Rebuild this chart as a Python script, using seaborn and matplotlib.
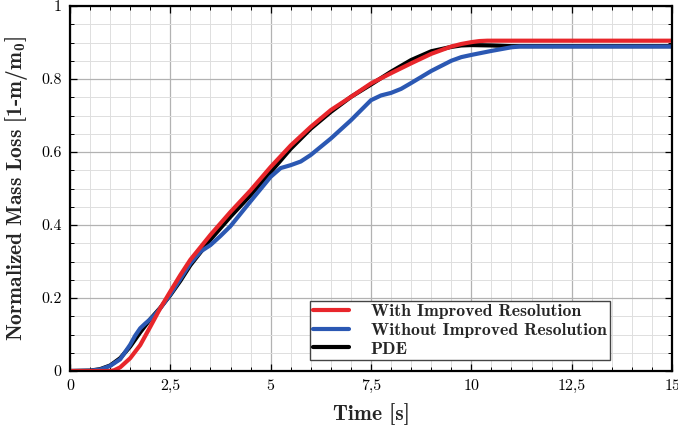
import matplotlib
matplotlib.use("Agg")
import matplotlib.pyplot as plt
import seaborn as sns
import pandas as pd
from matplotlib.ticker import MultipleLocator

# --- data -------------------------------------------------------------
series_names = ["With Improved Resolution", "Without Improved Resolution", "PDE"]
series_colors = ["#e8262b", "#2b58b3", "#000000"]

t_improved = [0, 0.5, 1.0, 1.1, 1.25, 1.5, 1.75, 2.0, 2.25, 2.5, 2.75, 3.0, 3.5,
              4.0, 4.5, 5.0, 5.5, 6.0, 6.5, 7.0, 7.5, 8.0, 8.5, 9.0, 9.5, 9.75,
              10.0, 10.2, 10.4, 15]
m_improved = [0, 0, 0.0, 0.002, 0.01, 0.035, 0.071, 0.121, 0.172, 0.218, 0.263,
              0.305, 0.373, 0.436, 0.495, 0.559, 0.618, 0.669, 0.715, 0.751,
              0.788, 0.816, 0.843, 0.869, 0.889, 0.896, 0.901, 0.904, 0.905, 0.905]

t_without = [0, 0.5, 0.75, 1.0, 1.25, 1.5, 1.625, 1.75, 1.875, 2.0, 2.125, 2.25,
             2.5, 2.75, 3.0, 3.25, 3.5, 3.75, 4.0, 4.5, 5.0, 5.25, 5.5, 5.75, 6.0,
             6.5, 7.0, 7.5, 7.75, 8.0, 8.25, 8.5, 9.0, 9.5, 9.75, 10.0, 10.5, 11.0,
             11.2, 15]
m_without = [0, 0.001, 0.004, 0.014, 0.032, 0.072, 0.097, 0.117, 0.13, 0.142,
             0.155, 0.172, 0.21, 0.252, 0.295, 0.327, 0.345, 0.37, 0.397, 0.465,
             0.532, 0.556, 0.564, 0.574, 0.592, 0.637, 0.687, 0.742, 0.755, 0.762,
             0.773, 0.789, 0.822, 0.85, 0.86, 0.866, 0.877, 0.887, 0.889, 0.889]

t_pde = [0, 0.5, 0.75, 1.0, 1.25, 1.5, 1.75, 2.0, 2.25, 2.5, 2.75, 3.0, 3.5, 4.0,
         4.5, 5.0, 5.5, 6.0, 6.5, 7.0, 7.5, 8.0, 8.5, 9.0, 9.5, 9.75, 10.0, 10.5,
         11.0, 15]
m_pde = [0, 0.001, 0.005, 0.015, 0.035, 0.067, 0.106, 0.142, 0.173, 0.208, 0.247,
         0.29, 0.36, 0.423, 0.482, 0.545, 0.609, 0.664, 0.71, 0.751, 0.785, 0.82,
         0.852, 0.876, 0.888, 0.892, 0.893, 0.892, 0.89, 0.89]

x_ticks = [0, 2.5, 5, 7.5, 10, 12.5, 15]
x_tick_labels = ["0", "2,5", "5", "7,5", "10", "12,5", "15"]
y_ticks = [0, 0.2, 0.4, 0.6, 0.8, 1.0]
y_tick_labels = ["0", "0.2", "0.4", "0.6", "0.8", "1"]

frames = []
for name, t, m in [(series_names[0], t_improved, m_improved),
                   (series_names[1], t_without, m_without),
                   (series_names[2], t_pde, m_pde)]:
    frames.append(pd.DataFrame({"time": t, "loss": m, "series": name}))
df = pd.concat(frames, ignore_index=True)

# --- style ------------------------------------------------------------
sns.set_style("ticks")
plt.rcParams["font.family"] = ["cmr10", "DejaVu Serif"]
plt.rcParams["mathtext.fontset"] = "custom"
plt.rcParams["mathtext.rm"] = "cmb10"
plt.rcParams["mathtext.it"] = "cmb10"
plt.rcParams["axes.unicode_minus"] = False

fig, ax = plt.subplots(figsize=(6.78, 4.30), dpi=100)
fig.subplots_adjust(left=0.1032, right=0.9912, bottom=0.1372, top=0.986)

# draw PDE first, then the two simulations on top
for idx in [2, 1, 0]:
    name = series_names[idx]
    sub = df[df["series"] == name]
    sns.lineplot(data=sub, x="time", y="loss", ax=ax, color=series_colors[idx],
                 linewidth=3.0, estimator=None, sort=False, label=name)

ax.set_xlim(0, 15)
ax.set_ylim(0, 1)
ax.set_xticks(x_ticks)
ax.set_xticklabels(x_tick_labels)
ax.set_yticks(y_ticks)
ax.set_yticklabels(y_tick_labels)
ax.xaxis.set_minor_locator(MultipleLocator(0.5))
ax.yaxis.set_minor_locator(MultipleLocator(0.05))

ax.grid(which="major", color="#b2b2b2", linewidth=0.9)
ax.grid(which="minor", color="#dedede", linewidth=0.7)
ax.set_axisbelow(True)

ax.tick_params(which="both", direction="in", top=True, right=True,
               colors="black", labelsize=11.5)
ax.tick_params(which="major", length=5, width=0.9, pad=6)
ax.tick_params(which="minor", length=3, width=0.7)
for sp in ax.spines.values():
    sp.set_color("black")
    sp.set_linewidth(1.6)

ax.set_xlabel("Time [s]", fontfamily="cmb10", fontsize=15.5, labelpad=7)
ax.set_ylabel(r"Normalized Mass Loss [1-m/m$_{\mathrm{0}}$]", fontfamily="cmb10",
              fontsize=15.5, labelpad=8)

h, l = ax.get_legend_handles_labels()
order = [l.index(n) for n in series_names]
leg = ax.legend([h[i] for i in order], [l[i] for i in order],
                loc="lower right", bbox_to_anchor=(0.897, 0.03),
                borderaxespad=0,
                prop={"family": "cmb10", "size": 12.7}, frameon=True,
                fancybox=False, edgecolor="#444444", framealpha=1,
                handlelength=2.0, handletextpad=1.25, labelspacing=0.18,
                borderpad=0.2)
leg.get_frame().set_linewidth(1.0)

fig.savefig("out.png", dpi=100)
